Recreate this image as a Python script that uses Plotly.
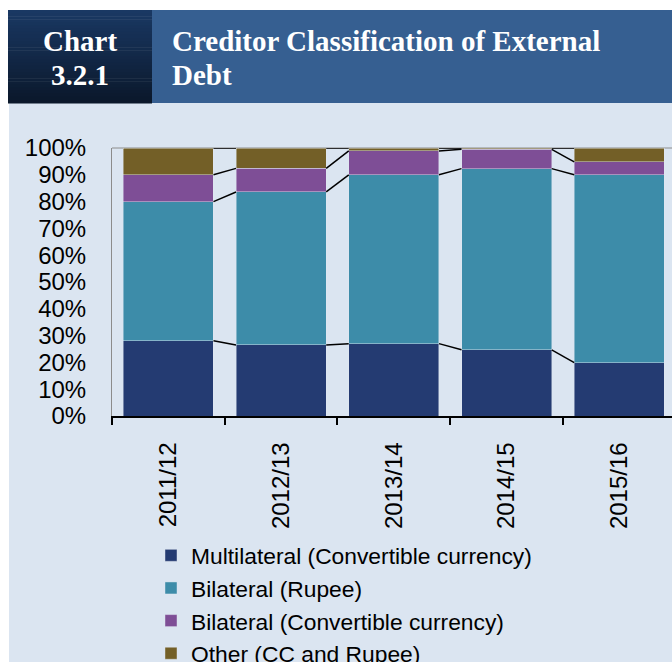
import plotly.graph_objects as go

# Fiscal years and creditor shares of external debt (% of total)
years = ["2011/12", "2012/13", "2013/14", "2014/15", "2015/16"]
multilateral_cc = [28.1, 26.5, 27.0, 24.7, 19.9]
bilateral_rupee = [51.9, 57.1, 63.0, 67.6, 70.1]
bilateral_cc = [10.0, 8.8, 8.9, 7.2, 4.8]
other_cc_rupee = [10.0, 7.6, 1.1, 0.5, 5.2]

series_names = [
    "Multilateral (Convertible currency)",
    "Bilateral (Rupee)",
    "Bilateral (Convertible currency)",
    "Other (CC and Rupee)",
]
series_values = [multilateral_cc, bilateral_rupee, bilateral_cc, other_cc_rupee]
series_colors = ["#243b72", "#3d8ca9", "#7e4e96", "#735f27"]

y_ticks = list(range(0, 101, 10))
y_tick_labels = ["%d%%" % v for v in y_ticks]

W, H = 672, 662
ML, MR, MT, MB = 112, 0, 148, 246
PW, PH = W - ML - MR, H - MT - MB
BAR_FRAC = 0.8
X_MAX = 4.467  # the right edge of the plot cuts just inside the last category


def px_x(px):
    return (px - ML) / PW


def px_y(py):
    return (H - MB - py) / PH


fig = go.Figure()

for name, vals, color in zip(series_names, series_values, series_colors):
    fig.add_trace(go.Bar(
        x=years, y=vals, name=name,
        marker=dict(color=color, line=dict(color="rgba(225,232,242,0.55)", width=0.8)),
        width=BAR_FRAC,
    ))

# Series lines joining the top of each stacked segment between adjacent bars
cx, cy = [], []
cum = [0.0] * len(years)
for vals in series_values:
    cum = [c + v for c, v in zip(cum, vals)]
    for i in range(len(years) - 1):
        cx += [i + BAR_FRAC / 2, i + 1 - BAR_FRAC / 2, None]
        cy += [cum[i], cum[i + 1], None]
fig.add_trace(go.Scatter(
    x=cx, y=cy, mode="lines", xaxis="x2", yaxis="y",
    line=dict(color="black", width=1.5), showlegend=False, hoverinfo="skip",
))

shapes = []
# light page panel
shapes.append(dict(type="rect", xref="paper", yref="paper", layer="below",
                   x0=px_x(9), x1=px_x(W), y0=px_y(H), y1=px_y(103),
                   fillcolor="#dbe5f1", line=dict(width=0)))
# header: dark gradient box
n_bands = 30
top_c, bot_c = (25, 56, 99), (11, 24, 43)
y_top, y_bot = 10, 103
for k in range(n_bands):
    t = k / (n_bands - 1)
    c = tuple(round(a + (b - a) * t) for a, b in zip(top_c, bot_c))
    ya = y_top + (y_bot - y_top) * k / n_bands
    yb = y_top + (y_bot - y_top) * (k + 1) / n_bands
    shapes.append(dict(type="rect", xref="paper", yref="paper", layer="below",
                       x0=px_x(8), x1=px_x(152), y0=px_y(yb + 0.5), y1=px_y(ya),
                       fillcolor="rgb(%d,%d,%d)" % c, line=dict(width=0)))
# header: title box
shapes.append(dict(type="rect", xref="paper", yref="paper", layer="below",
                   x0=px_x(152), x1=px_x(W), y0=px_y(103), y1=px_y(10),
                   fillcolor="#365f91", line=dict(width=0)))
# plot-area top border
shapes.append(dict(type="line", xref="paper", yref="paper", layer="below",
                   x0=0, x1=1, y0=1, y1=1, line=dict(color="#8c8c8c", width=1)))

title_font = dict(family="Liberation Serif, Times New Roman, serif", size=29, color="white")
annotations = [
    dict(text="<b>Chart</b>", x=px_x(80), y=px_y(41), xref="paper", yref="paper",
         xanchor="center", yanchor="middle", showarrow=False, font=title_font),
    dict(text="<b>3.2.1</b>", x=px_x(80), y=px_y(75), xref="paper", yref="paper",
         xanchor="center", yanchor="middle", showarrow=False, font=title_font),
    dict(text="<b>Creditor Classification of External</b>", x=px_x(170), y=px_y(41),
         xref="paper", yref="paper", xanchor="left", yanchor="middle",
         showarrow=False, font=title_font),
    dict(text="<b>Debt</b>", x=px_x(170), y=px_y(75), xref="paper", yref="paper",
         xanchor="left", yanchor="middle", showarrow=False, font=title_font),
]

axis_font = dict(family="Liberation Sans, Arial, sans-serif", size=24, color="black")

fig.update_layout(
    width=W, height=H,
    margin=dict(l=ML, r=MR, t=MT, b=MB, pad=0, autoexpand=False),
    paper_bgcolor="white", plot_bgcolor="rgba(0,0,0,0)",
    barmode="stack", bargap=0.2,
    shapes=shapes, annotations=annotations,
    showlegend=True,
    legend=dict(
        orientation="v", x=px_x(151), y=px_y(534), xanchor="left", yanchor="top",
        font=dict(family="Liberation Sans, Arial, sans-serif", size=22.8, color="black"),
        bgcolor="rgba(0,0,0,0)", traceorder="normal", itemclick=False,
    ),
    xaxis=dict(
        type="category", range=[-0.5, X_MAX], tickson="boundaries",
        showline=True, linecolor="black", linewidth=1.5,
        ticks="outside", ticklen=7, tickcolor="black", tickwidth=1.5,
        tickangle=-90, tickfont=axis_font, ticklabelstandoff=15,
        showgrid=False, zeroline=False, automargin=False, fixedrange=True,
    ),
    xaxis2=dict(
        overlaying="x", range=[-0.5, X_MAX], visible=False, fixedrange=True,
    ),
    yaxis=dict(
        range=[0, 100], tickmode="array", tickvals=y_ticks, ticktext=y_tick_labels,
        showline=True, linecolor="#8c8c8c", linewidth=1,
        ticks="", tickfont=axis_font, ticklabelstandoff=20,
        showgrid=False, zeroline=False, automargin=False, fixedrange=True,
    ),
)

fig.write_html("out.html")
